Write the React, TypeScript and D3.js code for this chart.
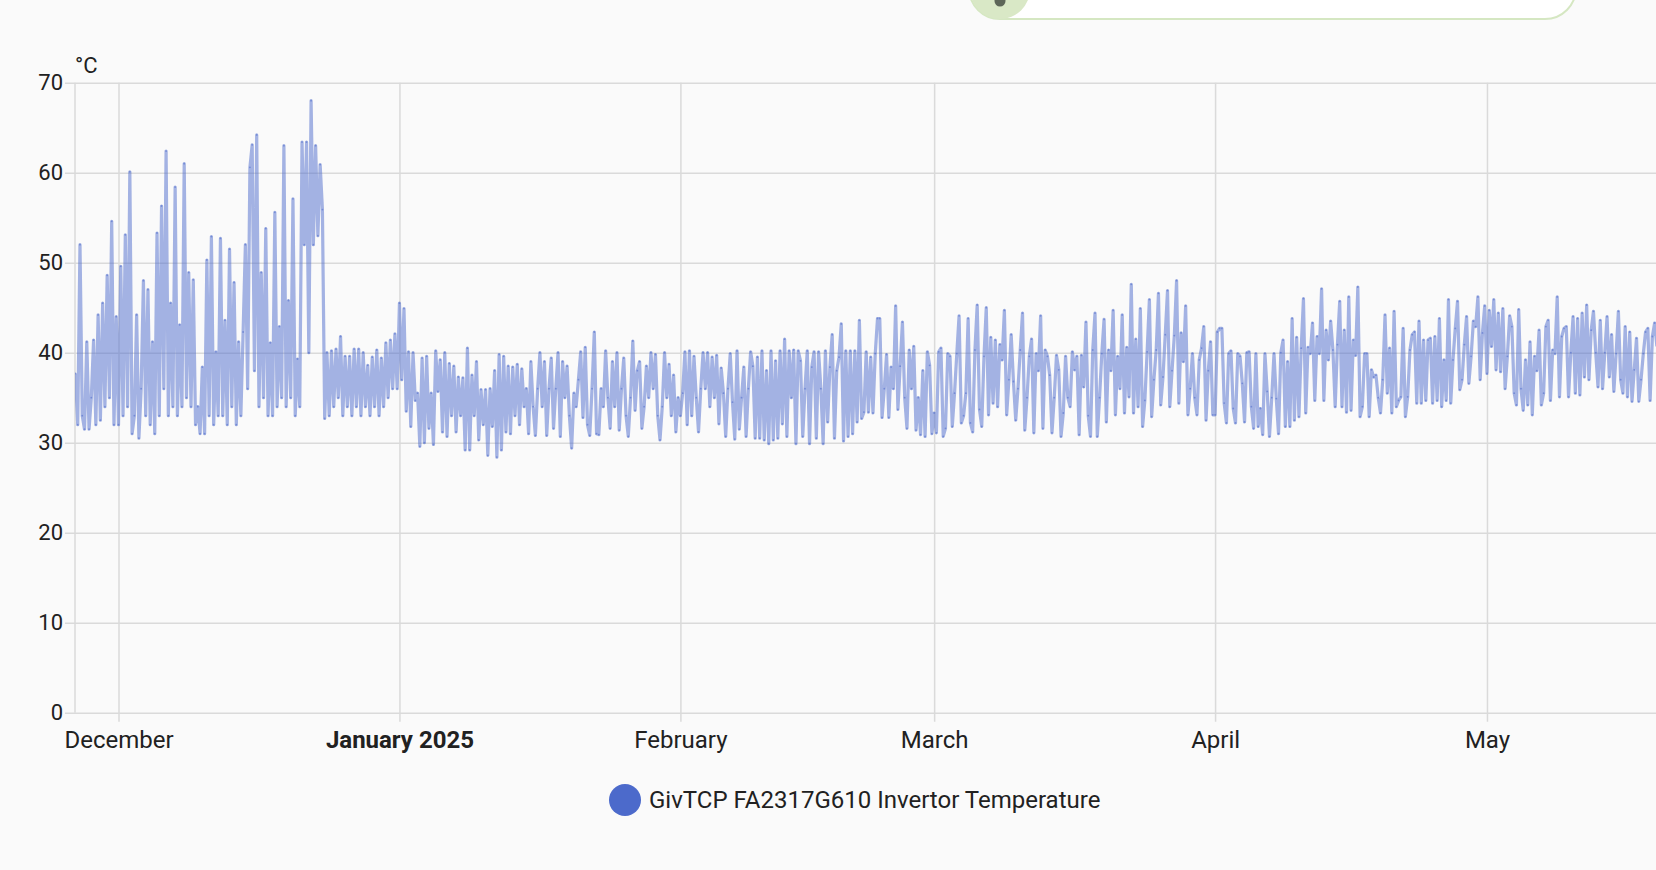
import { useEffect, useRef } from "react";
import * as d3 from "d3";

// 6-hourly samples
const novTemps = [37.7, 32, 52, 33, 31.5, 41.2, 31.5, 35, 41.4, 32, 44.2, 32.5, 45.5, 34, 48.6, 35, 54.6, 32, 44];
const decTemps = [
  32, 49.6, 33, 53.1, 34, 60.1, 31, 33, 44.2, 30.5,
  36, 48, 33, 47, 32, 41.2, 31, 53.3, 33, 56.3,
  36, 62.4, 33, 45.5, 34, 58.4, 33, 43.1, 34, 61,
  35, 48.9, 34, 48.1, 32, 34, 31, 38.4, 31, 50.3,
  33, 52.9, 32, 40.1, 33, 52.7, 33, 43.6, 32, 51.5,
  34, 47.8, 32, 41.2, 33, 42.3, 52, 36, 60.6, 63.1,
  38, 64.2, 34, 48.9, 35, 53.8, 33, 41.1, 33, 55.6,
  34, 42.9, 35, 63, 34, 45.8, 35, 57.1, 33, 39.3,
  34, 63.4, 52, 63.4, 40, 68, 52, 63, 53, 60.9,
  55.9, 32.7, 40, 33, 40.2, 34, 40.4, 35, 41.8, 33,
  39.6, 34, 39.6, 33, 40.4, 34, 40.4, 33, 40, 34,
  38.6, 33, 39.5, 34, 40.3, 33, 39.4, 34, 41.1, 35,
  41.4, 36, 42.1, 36,
];
const janTemps = [
  45.5, 37, 44.9, 33.5, 40.1, 31.8, 40, 34.7, 35.5, 29.6,
  39.4, 30, 39.6, 31.6, 35.5, 29.8, 40.2, 35.7, 39.2, 31.2,
  40, 30.7, 38.8, 33, 38.5, 31.2, 37.3, 33, 37.2, 29.2,
  40.5, 29.2, 37.5, 33, 39, 30.3, 35.9, 32, 35.9, 28.6,
  36, 31.8, 38, 28.4, 39.8, 29.2, 39.6, 31.2, 38.5, 31,
  38.4, 33, 38.7, 32, 38.2, 34, 36, 31, 39, 34,
  30.8, 36, 40, 34, 39, 30.8, 36, 39.4, 31.6, 36,
  40, 30.7, 39, 35, 38.5, 33, 29.4, 35.5, 34, 37,
  40.1, 32.8, 40.6, 32, 30.8, 36, 42.3, 31, 30.9, 36,
  34, 40.2, 35, 31.6, 39, 34, 40, 31.4, 36, 39.4,
  33, 30.7, 35, 41.3, 33.6, 38, 39, 31.6, 34, 38.5,
  35, 40, 36, 39.8, 33, 30.3, 34, 40, 35, 38.7,
  33, 37.5, 31.2, 35,
];
const febTemps = [
  33, 35.5, 40.1, 32, 40.2, 33, 39.6, 35, 31.2, 36,
  40, 36, 40, 34, 39.5, 35, 39.7, 32.1, 38.3, 35.5,
  30.7, 36, 39.9, 34.5, 30.4, 40.2, 31.5, 35, 38.4, 30.7,
  36, 40.1, 38.5, 30.5, 39.5, 30.5, 40.2, 30.3, 38, 29.9,
  40.2, 30.3, 39.1, 30.5, 40.2, 32.1, 41.5, 30.7, 40.2, 35,
  40.3, 29.9, 40.2, 39.1, 30.7, 36, 40.2, 29.9, 38.4, 40.1,
  30.5, 40.1, 36, 29.9, 40.2, 32.3, 38.4, 42, 30.5, 38,
  39.5, 43.2, 30.2, 40.2, 30.7, 40.2, 31, 40.2, 32.3, 43.6,
  32.7, 33.4, 40.1, 33.4, 39.5, 33.3, 39.9, 43.8, 43.8, 32.8,
  36, 39.8, 32.8, 38.4, 36, 45.2, 33.7, 38.5, 43.4, 35,
  31.6, 40.3, 36, 40.7, 31.4, 35, 30.9, 38, 30.7, 40.1,
  38.6, 31,
];
const marTemps = [
  33.3, 31.1, 40.1, 40.5, 30.7, 31.6, 39.9, 39.6, 31.8, 35.5,
  39.9, 44.1, 32.2, 33, 35.5, 43.8, 32.2, 31.2, 40.3, 45.3,
  33.7, 31.8, 39.6, 45, 33.1, 41.7, 34.4, 41.4, 34, 40.9,
  39.2, 44.7, 33.1, 37, 42, 36.8, 32.5, 36, 40.3, 44.4,
  31.4, 35, 39.6, 41.5, 31.1, 39.9, 38, 44.1, 31.6, 40.3,
  39.6, 37.5, 31.1, 35, 39.7, 38.1, 30.7, 33.3, 39.6, 35,
  34, 40.1, 38.1, 39.6, 30.9, 39.7, 36.2, 43.4, 33, 30.7,
  40.3, 44.4, 30.7, 35, 39.9, 43.7, 32.3, 40.3, 38, 44.7,
  33.1, 39.6, 36, 44.2, 33.3, 40.6, 35.1, 47.6, 33.3, 41.5,
  34, 44.9, 31.8, 34.7, 40.1, 45.9, 32.9, 37, 40.3, 46.6,
  34.2, 37.3, 42, 46.9, 34, 38, 41.9, 48, 34.4, 42.2,
  39, 45.2, 33.1, 36, 39.9, 35, 33.1, 39.2, 40.5, 42.9,
  32.5, 38, 41.2, 33.1,
];
const aprTemps = [
  33.1, 42.3, 42.7, 42.7, 34.4, 32.2, 39.9, 40.2, 33.8, 32.2,
  39.9, 39.6, 36.6, 32.3, 40, 40.1, 34, 31.6, 39.9, 31.8,
  33.8, 30.9, 39.9, 35.7, 30.7, 35, 39.9, 34.9, 31, 40,
  41.4, 31.8, 39, 31.8, 43.8, 32.5, 41.7, 32.9, 40.5, 46,
  33.3, 40.6, 39.9, 43.3, 34.7, 41.8, 39.9, 47.1, 34.7, 42.5,
  39.2, 43.5, 40.3, 34, 40.9, 45.7, 34, 42.5, 33.4, 46.2,
  33.6, 41.4, 39.7, 47.3, 32.9, 34, 39.9, 39.9, 32.9, 38.1,
  37.3, 37.5, 35, 33.3, 37, 44.2, 35.5, 40.5, 33.3, 44.6,
  34, 34.7, 35.1, 42.7, 32.9, 35.1, 40.3, 42, 42.3, 34.4,
  43.5, 34.4, 41.4, 34.7, 41.4, 41.6, 34.4, 41.8, 34.7, 43.8,
  34, 39.2, 34.7, 45.9, 34.4, 39.2, 42.7, 45.7, 35.9, 37,
  40.9, 44, 36.6, 39.6, 43.5, 42.9, 46.2, 37, 42.2, 45.2,
];
const mayTemps = [
  37.7, 44.7, 40.7, 45.9, 38.1, 44.4, 37.9, 44.9, 36, 39.6,
  44.1, 42.9, 35.5, 34.2, 44.8, 36, 33.6, 39.2, 34.2, 41.2,
  33.1, 39.6, 38, 42.5, 34.2, 35.5, 42.9, 43.6, 34.7, 40.3,
  39.9, 46.2, 35.1, 41.8, 42.7, 42.9, 35.1, 40, 44, 35.5,
  43.8, 35.3, 44.4, 37.3, 45.3, 37, 42.5, 44.6, 40, 36.2,
  43.6, 36, 40, 44, 37.3, 42, 35.7, 39.9, 44.6, 37,
  35.5, 42.9, 35.1, 42.3, 34.6, 38.1, 41.6, 34.6, 37, 39.9,
  42.3, 42.7, 34.7, 41.8, 43.3, 40.7,
];

const segmentStarts = [
  Date.UTC(2024, 10, 26, 6),
  Date.UTC(2024, 11, 1),
  Date.UTC(2025, 0, 1),
  Date.UTC(2025, 1, 1),
  Date.UTC(2025, 2, 1),
  Date.UTC(2025, 3, 1),
  Date.UTC(2025, 4, 1),
];
const segmentTemps = [novTemps, decTemps, janTemps, febTemps, marTemps, aprTemps, mayTemps];

const yTicks = [0, 10, 20, 30, 40, 50, 60, 70];
const monthTicks = [
  Date.UTC(2024, 11, 1),
  Date.UTC(2025, 0, 1),
  Date.UTC(2025, 1, 1),
  Date.UTC(2025, 2, 1),
  Date.UTC(2025, 3, 1),
  Date.UTC(2025, 4, 1),
];
const monthLabels = ["December", "January 2025", "February", "March", "April", "May"];
const seriesName = "GivTCP FA2317G610 Invertor Temperature";
const unitLabel = "°C";

const STEP = 6 * 3600 * 1000;
const W = 1656;
const H = 870;
const FONT = "Roboto, 'Noto Sans', sans-serif";
const TEXT = "#212121";
const GRID = "#dadada";
const COLOR = "#4c6acb";

export default function App() {
  const svgRef = useRef<SVGSVGElement>(null);

  useEffect(() => {
    if (!svgRef.current) return;
    const svg = d3.select(svgRef.current);
    svg.selectAll("*").remove();

    const plotLeft = 75;
    const plotTop = 82.7;
    const plotBottom = 712.7;

    const x = d3
      .scaleUtc()
      .domain([Date.UTC(2024, 10, 26, 4, 48), Date.UTC(2025, 4, 19, 15, 36)])
      .range([plotLeft, W]);
    const y = d3.scaleLinear().domain([0, 70]).range([plotBottom, plotTop]);

    // top card fragment
    const card = svg.append("g");
    card
      .append("rect")
      .attr("x", 969)
      .attr("y", -45)
      .attr("width", 607)
      .attr("height", 64)
      .attr("rx", 31)
      .attr("fill", "#ffffff")
      .attr("stroke", "#d5e7c2")
      .attr("stroke-width", 2);
    card.append("circle").attr("cx", 1000).attr("cy", -11).attr("r", 30).attr("fill", "#d9e8c6");
    card.append("circle").attr("cx", 1000).attr("cy", 1).attr("r", 5.5).attr("fill", "#5d6658");

    // y axis + horizontal grid
    const yAxis = svg
      .append("g")
      .attr("transform", `translate(${plotLeft},0)`)
      .call(
        d3
          .axisLeft(y)
          .tickValues(yTicks)
          .tickSizeInner(-(W - plotLeft))
          .tickSizeOuter(0)
          .tickPadding(12)
      );
    yAxis.select(".domain").remove();
    yAxis.attr("font-family", FONT).attr("font-size", 22);
    yAxis.selectAll(".tick line").attr("x1", -10).attr("stroke", GRID).attr("stroke-width", 1.5);
    yAxis.selectAll(".tick text").attr("fill", TEXT);

    // x axis + vertical grid
    const xAxis = svg
      .append("g")
      .attr("transform", `translate(0,${plotBottom})`)
      .call(
        d3
          .axisBottom(x)
          .tickValues(monthTicks.map((d) => new Date(d)))
          .tickFormat((_d, i) => monthLabels[i])
          .tickSizeInner(-(plotBottom - plotTop))
          .tickSizeOuter(0)
          .tickPadding(18)
      );
    xAxis.select(".domain").remove();
    xAxis.attr("font-family", FONT).attr("font-size", 24);
    xAxis.selectAll(".tick line").attr("y1", 9).attr("stroke", GRID).attr("stroke-width", 1.5);
    xAxis
      .selectAll(".tick text")
      .attr("fill", TEXT)
      .attr("font-weight", (_d, i) => (i === 1 ? 700 : 400));

    svg
      .append("line")
      .attr("x1", plotLeft)
      .attr("x2", plotLeft)
      .attr("y1", plotTop)
      .attr("y2", plotBottom)
      .attr("stroke", GRID)
      .attr("stroke-width", 1.5);

    svg
      .append("text")
      .attr("x", plotLeft)
      .attr("y", 73)
      .attr("font-family", FONT)
      .attr("font-size", 22)
      .attr("fill", TEXT)
      .text(unitLabel);

    // series
    const points = segmentTemps.flatMap((vals, s) =>
      vals.map((v, i) => ({ t: segmentStarts[s] + i * STEP, v }))
    );
    const line = d3
      .line<{ t: number; v: number }>()
      .x((d) => x(d.t))
      .y((d) => y(d.v));

    svg
      .append("clipPath")
      .attr("id", "plot-clip")
      .append("rect")
      .attr("x", plotLeft)
      .attr("y", 0)
      .attr("width", W - plotLeft)
      .attr("height", plotBottom);

    const plot = svg.append("g").attr("clip-path", "url(#plot-clip)");
    plot
      .append("path")
      .datum(points)
      .attr("d", line)
      .attr("fill", "none")
      .attr("stroke", COLOR)
      .attr("stroke-opacity", 0.5)
      .attr("stroke-width", 3.2)
      .attr("stroke-linejoin", "round");
    plot
      .selectAll("circle")
      .data(points)
      .join("circle")
      .attr("cx", (d) => x(d.t))
      .attr("cy", (d) => y(d.v))
      .attr("r", 0.9)
      .attr("fill", COLOR)
      .attr("fill-opacity", 0.55);

    // legend
    const legend = svg.append("g");
    legend.append("circle").attr("cx", 625).attr("cy", 800).attr("r", 16).attr("fill", COLOR);
    legend
      .append("text")
      .attr("x", 649)
      .attr("y", 808)
      .attr("font-family", FONT)
      .attr("font-size", 24)
      .attr("fill", TEXT)
      .text(seriesName);
  }, []);

  return (
    <div style={{ position: "fixed", inset: 0, background: "#fafafa", overflow: "hidden" }}>
      <svg ref={svgRef} width={W} height={H} style={{ display: "block" }}></svg>
    </div>
  );
}
